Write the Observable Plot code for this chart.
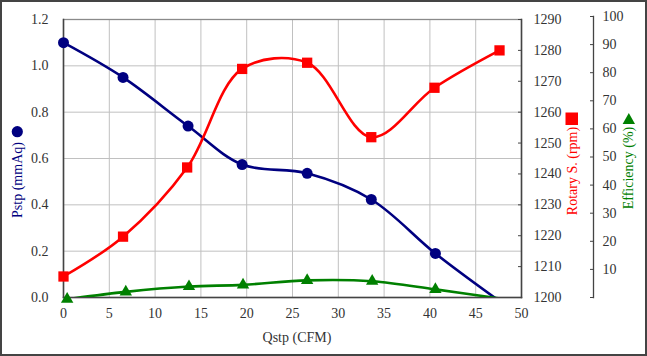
<!DOCTYPE html>
<html><head><meta charset="utf-8">
<script src="https://cdn.jsdelivr.net/npm/d3@7"></script>
<script src="https://cdn.jsdelivr.net/npm/@observablehq/plot@0.6"></script>
<style>
body{margin:0;background:#fff}
#chart{position:relative;width:647px;height:356px;font-family:'Liberation Serif','DejaVu Serif',serif}
#chart svg{position:absolute;left:0;top:0;overflow:visible}
#chart svg text{font-family:'Liberation Serif','DejaVu Serif',serif !important;font-size:14px}
</style></head><body><div id="chart"></div>
<script>
// ---- data ----
const qstp = [0, 6.5, 13.6, 19.5, 26.6, 33.6, 40.6, 47.4];
const pstp = [1.10, 0.95, 0.74, 0.574, 0.536, 0.423, 0.19, -0.01];
const rotaryQ = [0, 6.5, 13.5, 19.5, 26.6, 33.6, 40.5, 47.6];
const rotary = [1206.8, 1219.7, 1242.1, 1274.0, 1276.0, 1251.9, 1267.9, 1280.0];
const effQ = [0.4, 6.8, 13.7, 19.6, 26.6, 33.7, 40.6, 47.5];
const efficiency = [-0.6, 2.0, 3.9, 4.5, 6.1, 5.8, 2.9, -0.3];
const xTicks = [0, 5, 10, 15, 20, 25, 30, 35, 40, 45, 50];
const pTicks = [0, 0.2, 0.4, 0.6, 0.8, 1.0, 1.2];
const rTicks = [1200, 1210, 1220, 1230, 1240, 1250, 1260, 1270, 1280, 1290];
const eTicks = [10, 20, 30, 40, 50, 60, 70, 80, 90, 100];
const eTickMarks = [0, 10, 20, 30, 40, 50, 60, 70, 80, 90, 100];
const xTitle = "Qstp (CFM)";
const pTitle = "Pstp (mmAq)";
const rTitle = "Rotary S. (rpm)";
const eTitle = "Efficiency (%)";

const pData = qstp.map((q, i) => ({q, v: pstp[i]}));
const rData = rotaryQ.map((q, i) => ({q, v: rotary[i]}));
const eData = effQ.map((q, i) => ({q, v: efficiency[i]}));

const W = 647, H = 356;
const FONT = "'Liberation Serif','DejaVu Serif',serif";
const NAVY = "#000080", RED = "#ff0000", GREEN = "#008000";
const common = {
  width: W, height: H, marginLeft: 63, marginRight: 126, marginTop: 19, marginBottom: 59,
  style: {fontFamily: FONT, fontSize: "14px", color: "#333", background: "transparent", overflow: "visible"}
};
const xScale = {domain: [0, 50]};
const chart = document.getElementById("chart");

// base: grid, x axis, left axis, Pstp
const base = Plot.plot({
  ...common,
  x: {...xScale},
  y: {domain: [0, 1.2]},
  marks: [
    Plot.ruleX(xTicks, {stroke: "#c0c0c0", strokeWidth: 1}),
    Plot.ruleY(pTicks, {stroke: "#c0c0c0", strokeWidth: 1}),
    Plot.frame({stroke: "#8a8a8a", strokeWidth: 1.3}),
    Plot.frame({anchor: "left", stroke: "#444", strokeWidth: 1.5}),
    Plot.frame({anchor: "bottom", stroke: "#444", strokeWidth: 1.5}),
    Plot.frame({anchor: "right", stroke: "#444", strokeWidth: 1.5}),
    Plot.axisX({ticks: xTicks, tickSize: 0, tickPadding: 11, tickFormat: d => String(d), label: null, fill: "#333"}),
    Plot.axisY({ticks: pTicks, tickSize: 0, tickPadding: 15, tickFormat: d3.format(".1f"), label: null, fill: "#333"}),
    Plot.line(pData, {x: "q", y: "v", stroke: NAVY, strokeWidth: 2.6, curve: "catmull-rom", clip: true}),
    Plot.dot(pData.slice(0, -1), {x: "q", y: "v", r: 5.5, fill: NAVY, stroke: null})
  ]
});
chart.appendChild(base);

// rotary speed
const rot = Plot.plot({
  ...common,
  x: {...xScale, axis: null},
  y: {domain: [1200, 1290]},
  marks: [
    Plot.axisY({anchor: "right", ticks: rTicks, tickSize: 0, tickPadding: 12, label: null, fill: "#333", tickFormat: d => String(d)}),
    Plot.axisY({anchor: "right", ticks: rTicks, tickSize: 4, dx: -4, label: null, tickFormat: () => "", stroke: "#444"}),
    Plot.line(rData, {x: "q", y: "v", stroke: RED, strokeWidth: 2.6, curve: "catmull-rom", clip: true}),
    Plot.dot(rData, {x: "q", y: "v", r: 5.8, symbol: "square", fill: RED, stroke: null})
  ]
});
chart.appendChild(rot);

// efficiency
const effCommon = {...common, marginTop: 16};
const eff = Plot.plot({
  ...effCommon,
  x: {...xScale, axis: null},
  y: {domain: [0, 100], axis: null},
  marks: [
    Plot.line(eData, {x: "q", y: "v", stroke: GREEN, strokeWidth: 2.6, curve: "catmull-rom", clip: true}),
    Plot.dot(eData.slice(0, -1), {x: "q", y: "v", r: 4.6, symbol: "triangle", fill: GREEN, stroke: null})
  ]
});
chart.appendChild(eff);

// efficiency axis (separate position)
const effAxis = Plot.plot({
  ...effCommon,
  marginRight: 54,
  y: {domain: [0, 100]},
  marks: [
    Plot.frame({anchor: "right", stroke: "#444", strokeWidth: 1.3}),
    Plot.axisY({anchor: "right", ticks: eTicks, tickSize: 0, tickPadding: 9, label: null, fill: "#333", tickFormat: d => String(d)}),
    Plot.axisY({anchor: "right", ticks: eTickMarks, tickSize: 4, dx: -4, label: null, tickFormat: () => "", stroke: "#444"})
  ]
});
chart.appendChild(effAxis);

// overlay: border, titles, legend symbols
const svg = d3.create("svg").attr("width", W).attr("height", H);
svg.append("rect").attr("x", 1).attr("y", 1).attr("width", W - 2).attr("height", H - 2)
  .attr("fill", "none").attr("stroke", "#444").attr("stroke-width", 2);
svg.append("text").attr("x", 297).attr("y", 342).attr("text-anchor", "middle").attr("fill", "#333").text(xTitle);
function vtitle(x, y, txt, color) {
  svg.append("text").attr("transform", `translate(${x},${y}) rotate(-90)`)
    .attr("text-anchor", "middle").attr("dy", "0.33em").attr("fill", color).text(txt);
}
vtitle(17.5, 180, pTitle, NAVY);
vtitle(572, 171, rTitle, RED);
vtitle(628.5, 168, eTitle, GREEN);
svg.append("circle").attr("cx", 17.3).attr("cy", 131.7).attr("r", 5.6).attr("fill", NAVY);
svg.append("rect").attr("x", 565.5).attr("y", 112.5).attr("width", 12.5).attr("height", 12.5).attr("fill", RED);
svg.append("path").attr("d", "M628.8,113 L635,124 L622.6,124 Z").attr("fill", GREEN);
chart.appendChild(svg.node());
</script>
</body></html>
